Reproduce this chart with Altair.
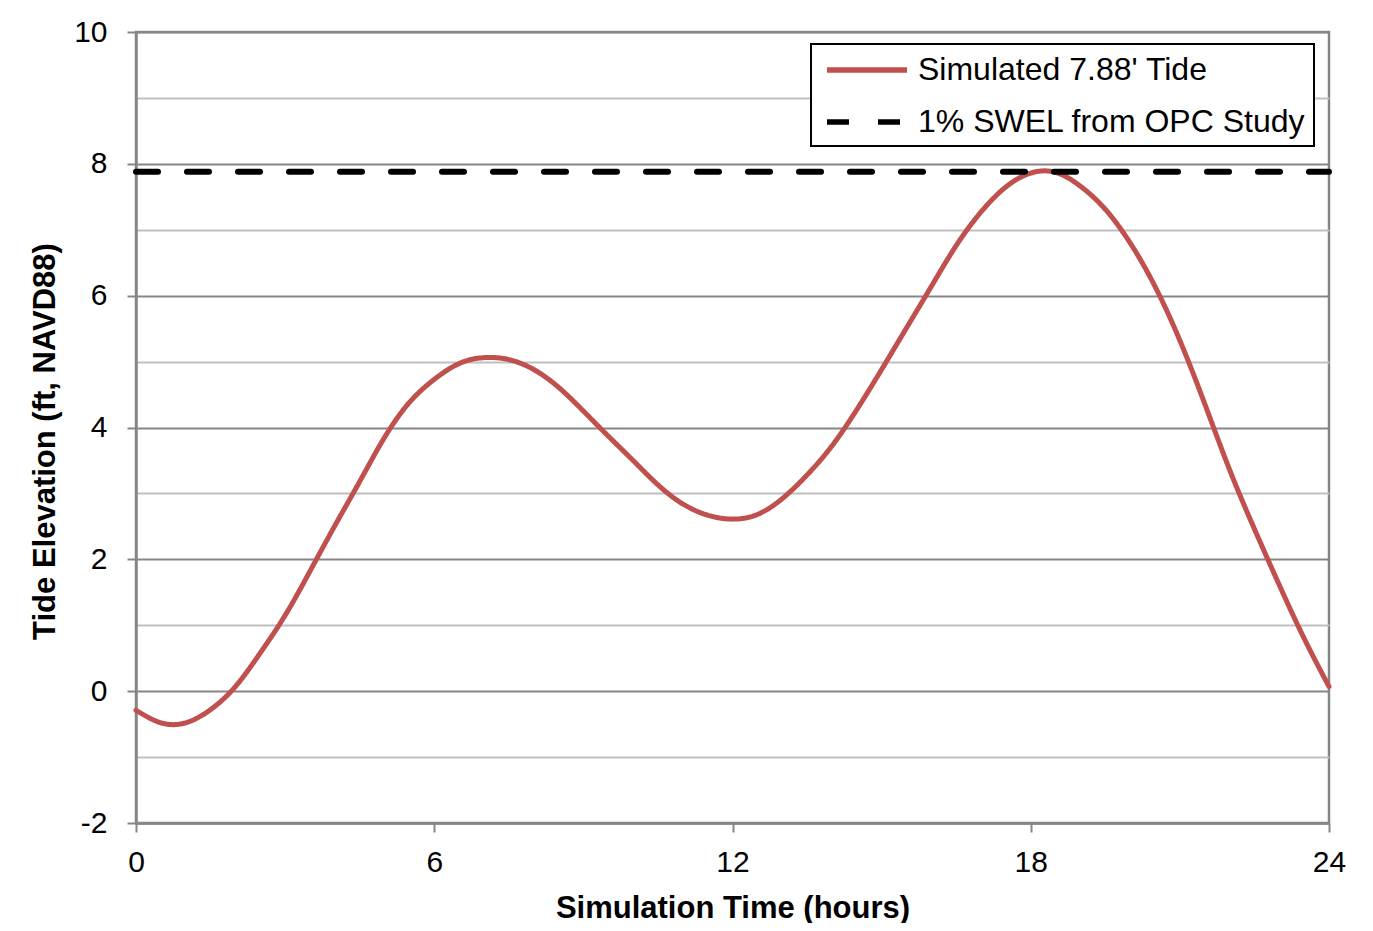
import altair as alt
import pandas as pd

# Simulated tide (hours, ft NAVD88) every half hour
tide_time = [0.0, 0.5, 1.0, 1.5, 2.0, 2.5, 3.0, 3.5, 4.0, 4.5, 5.0, 5.5, 6.0, 6.5, 7.0, 7.5,
             8.0, 8.5, 9.0, 9.5, 10.0, 10.5, 11.0, 11.5, 12.0, 12.5, 13.0, 13.5, 14.0, 14.5,
             15.0, 15.5, 16.0, 16.5, 17.0, 17.5, 18.0, 18.5, 19.0, 19.5, 20.0, 20.5, 21.0,
             21.5, 22.0, 22.5, 23.0, 23.5, 24.0]
tide_value = [-0.29, -0.48, -0.48, -0.28, 0.07, 0.58, 1.15, 1.82, 2.51, 3.18, 3.85, 4.38,
              4.73, 4.97, 5.06, 5.03, 4.88, 4.61, 4.25, 3.87, 3.50, 3.13, 2.84, 2.67, 2.61,
              2.68, 2.92, 3.28, 3.72, 4.27, 4.88, 5.51, 6.14, 6.76, 7.27, 7.65, 7.86, 7.87,
              7.66, 7.31, 6.80, 6.14, 5.32, 4.36, 3.36, 2.46, 1.61, 0.80, 0.07]

swel_time = [0, 24]
swel_value = [7.88, 7.88]

series_names = ["Simulated 7.88' Tide", "1% SWEL from OPC Study"]
series_colors = ["#C0504D", "#000000"]
series_dash = [[1, 0], [22, 29]]

x_ticks = [0, 6, 12, 18, 24]
y_grid = list(range(-2, 11))

tide_df = pd.DataFrame({"t": tide_time, "v": tide_value, "series": series_names[0]})
swel_df = pd.DataFrame({"t": swel_time, "v": swel_value, "series": series_names[1]})

FONT = "Liberation Sans"
GRAY = "#868686"

x_enc = alt.X("t:Q", scale=alt.Scale(domain=[0, 24], nice=False, zero=False),
              axis=alt.Axis(values=x_ticks, grid=False, domainColor=GRAY, domainWidth=2.5,
                            tickColor=GRAY, tickWidth=2, tickSize=9, labelFlush=False,
                            labelFontSize=30, labelFont=FONT, labelColor="black", labelPadding=15,
                            title="Simulation Time (hours)", titleFont=FONT, titleFontSize=31,
                            titleFontWeight="bold", titleColor="black", titlePadding=16))
y_enc = alt.Y("v:Q", scale=alt.Scale(domain=[-2, 10], nice=False, zero=False),
              axis=alt.Axis(values=y_grid, grid=True,
                            gridColor={"condition": {"test": "datum.value % 2 === 0", "value": GRAY},
                                       "value": "#BFBFBF"},
                            gridWidth=2,
                            domainColor=GRAY, domainWidth=2.5,
                            tickColor={"condition": {"test": "datum.value % 2 === 0", "value": GRAY},
                                       "value": "transparent"},
                            tickWidth=2, tickSize=9, labelFlush=False,
                            labelExpr="datum.value % 2 === 0 ? '' + datum.value : ''",
                            labelFontSize=30, labelFont=FONT, labelColor="black", labelPadding=20,
                            title="Tide Elevation (ft, NAVD88)", titleFont=FONT, titleFontSize=31,
                            titleFontWeight="bold", titleColor="black", titlePadding=12,
                            titleY=409))

legend_props = dict(orient="none", legendX=675, legendY=12, title=None,
                    symbolType="M-0.667,0H4.667", symbolSize=900,
                    symbolStrokeWidth=5.5, labelFontSize=32, labelFont=FONT,
                    labelColor="black", labelOffset=63, labelLimit=0,
                    rowPadding=18, padding=8, strokeColor="black",
                    fillColor="white")

color_enc = alt.Color("series:N", scale=alt.Scale(domain=series_names, range=series_colors),
                      legend=alt.Legend(**legend_props))
dash_enc = alt.StrokeDash("series:N", scale=alt.Scale(domain=series_names, range=series_dash),
                          legend=alt.Legend(**legend_props))

tide = alt.Chart(tide_df).mark_line(interpolate="natural", strokeWidth=5, strokeCap="round").encode(
    x=x_enc, y=y_enc, color=color_enc, strokeDash=dash_enc)
swel = alt.Chart(swel_df).mark_line(strokeWidth=6, strokeCap="round").encode(
    x="t:Q", y="v:Q", color=color_enc, strokeDash=dash_enc)

chart = alt.layer(tide, swel).properties(
    width=1193, height=791,
    autosize=alt.AutoSizeParams(type="none"),
    padding={"left": 128, "top": 24, "right": 36, "bottom": 100},
    background="white",
).configure_view(stroke=GRAY, strokeWidth=2.5).configure_legend(strokeWidth=2)

chart.save("out.html", embed_options={"renderer": "svg", "actions": False})
